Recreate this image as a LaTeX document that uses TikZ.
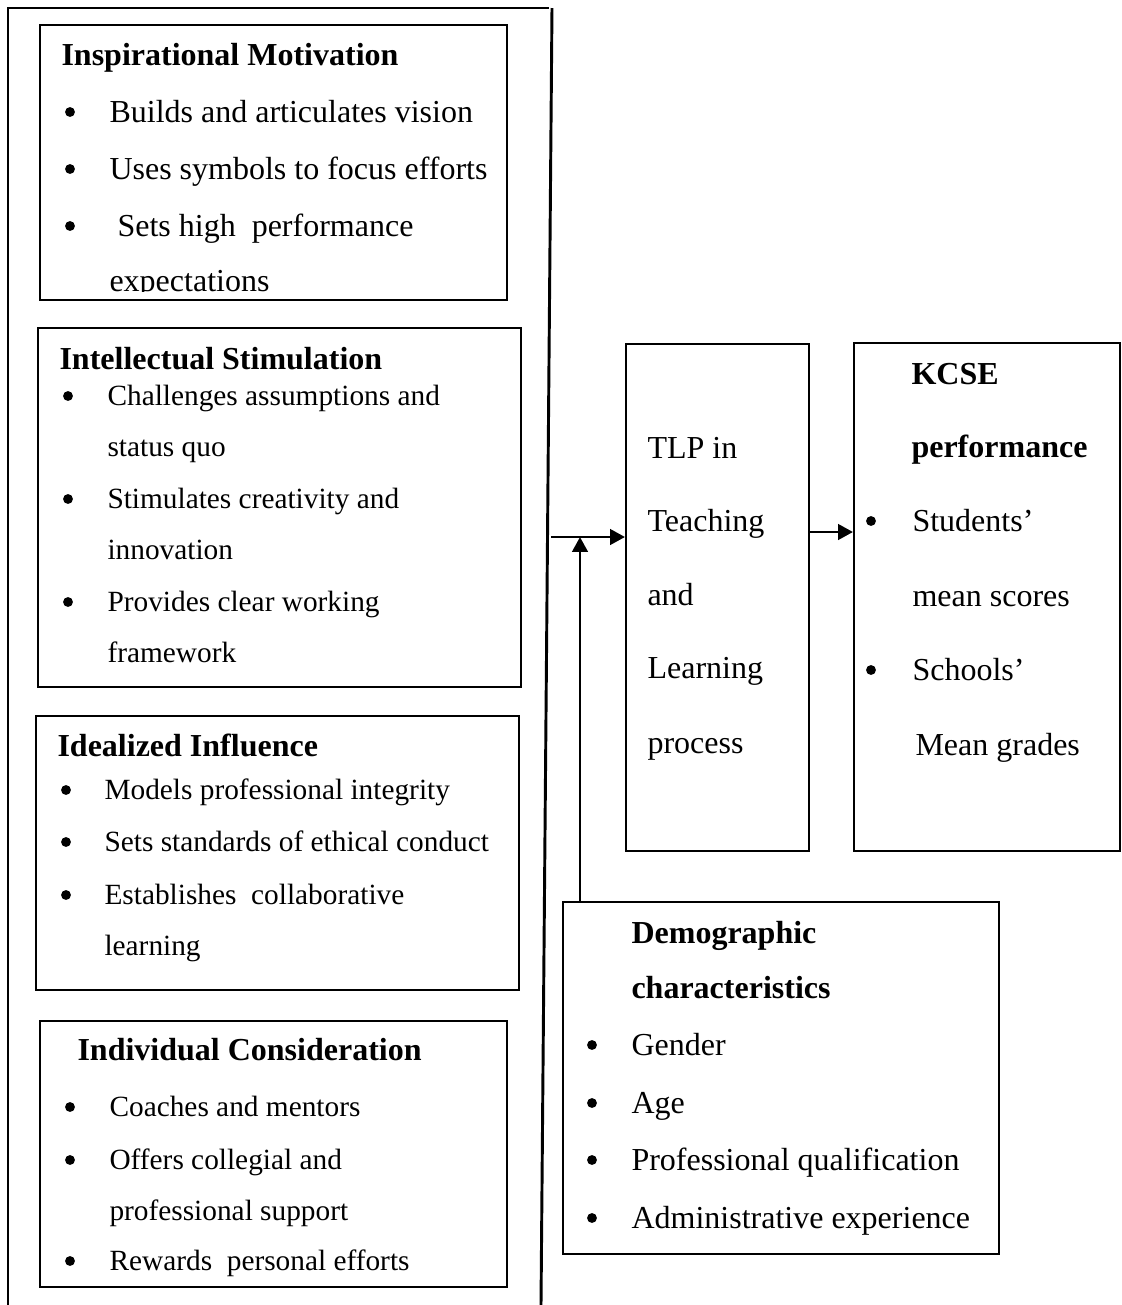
\documentclass[tikz,border=0pt]{standalone}
\usepackage{fontspec}
\setmainfont{Liberation Serif}
\usetikzlibrary{arrows.meta,fit}
\begin{document}
\begin{tikzpicture}[x=0.375pt,y=-0.375pt,
    box/.style={draw,line width=0.75pt,inner sep=0pt},
    txt/.style={anchor=base west,inner sep=0pt,font=\fontsize{12}{14}\selectfont},
    sml/.style={txt,font=\fontsize{11}{13}\selectfont},
    ttl/.style={txt,font=\fontsize{12}{14}\selectfont\bfseries},
    bul/.style={circle,fill,inner sep=0pt,minimum size=3.7pt},
    arr/.style={line width=1.1pt,-{Triangle[length=5.6pt,width=5.8pt]}}]
  \useasboundingbox (0,0) rectangle (1122,1305);
  % outer frame round the four leadership factors
  \draw[line width=0.75pt] (8,1305) -- (8,8) -- (549,8);
  \draw[line width=1.1pt] (552,8) -- (541,1305);

  % boxes
  \node[box,fit={(40,25) (507,300)}] (insp) {};
  \node[box,fit={(38,328) (521,687)}] (intel) {};
  \node[box,fit={(36,716) (519,990)}] (ideal) {};
  \node[box,fit={(40,1021) (507,1287)}] (indiv) {};
  \node[box,fit={(626,344) (809,851)}] (tlp) {};
  \node[box,fit={(854,343) (1120,851)}] (kcse) {};
  \node[box,fit={(563,902) (999,1254)}] (demo) {};

  % Inspirational Motivation (last line cut by the box)
  \begin{scope}
    \clip (40,25) rectangle (507,291);
    \node[ttl] (insp-t) at (61,65) {Inspirational Motivation};
    \foreach \y [count=\i] in {122,179,236}
      \node[bul] (insp-b\i) at (70,\y-10) {};
    \node[txt] (insp-1) at (109,122) {Builds and articulates vision};
    \node[txt] (insp-2) at (109,179) {Uses symbols to focus efforts};
    \node[txt] (insp-3) at (117,236) {Sets high\ \ performance};
    \node[txt] (insp-4) at (109,291) {expectations};
  \end{scope}

  % Intellectual Stimulation
  \node[ttl] (intel-t) at (59,369) {Intellectual Stimulation};
  \foreach \y [count=\i] in {405,508,611}
    \node[bul] (intel-b\i) at (68,\y-9) {};
  \foreach \y/\t [count=\i] in {405/Challenges assumptions and,456/status quo,
      508/Stimulates creativity and,559/innovation,
      611/Provides clear working,662/framework}
    \node[sml] (intel-\i) at (107,\y) {\t};

  % Idealized Influence
  \node[ttl] (ideal-t) at (57,756) {Idealized Influence};
  \foreach \y [count=\i] in {799,851,904}
    \node[bul] (ideal-b\i) at (66,\y-9) {};
  \foreach \y/\t [count=\i] in {799/Models professional integrity,
      851/Sets standards of ethical conduct,
      904/Establishes\ \ collaborative,955/learning}
    \node[sml] (ideal-\i) at (104,\y) {\t};

  % Individual Consideration
  \node[ttl] (indiv-t) at (77,1060) {Individual Consideration};
  \foreach \y [count=\i] in {1116,1169,1270}
    \node[bul] (indiv-b\i) at (70,\y-9) {};
  \foreach \y/\t [count=\i] in {1116/Coaches and mentors,1169/Offers collegial and,
      1220/professional support,1270/Rewards\ \ personal efforts}
    \node[sml] (indiv-\i) at (109,\y) {\t};

  % teaching and learning process
  \foreach \y/\t [count=\i] in {458/TLP in,531/Teaching,605/and,678/Learning,753/process}
    \node[txt] (tlp-\i) at (647,\y) {\t};

  % KCSE performance
  \node[ttl] (kcse-t1) at (911,384) {KCSE};
  \node[ttl] (kcse-t2) at (911,457) {performance};
  \foreach \y [count=\i] in {531,680}
    \node[bul] (kcse-b\i) at (871,\y-10) {};
  \node[txt] (kcse-1) at (912,531) {Students’};
  \node[txt] (kcse-2) at (912,606) {mean scores};
  \node[txt] (kcse-3) at (912,680) {Schools’};
  \node[txt] (kcse-4) at (915,755) {Mean grades};

  % demographic characteristics
  \node[ttl] (demo-t1) at (631,943) {Demographic};
  \node[ttl] (demo-t2) at (631,998) {characteristics};
  \foreach \y/\t [count=\i] in {1055/Gender,1113/Age,1170/Professional qualification,
      1228/Administrative experience}{
    \node[bul] (demo-b\i) at (592,\y-10) {};
    \node[txt] (demo-\i) at (631,\y) {\t};
  }

  % arrows
  \coordinate (src) at (551,537);
  \coordinate (jn) at (580,537);
  \draw[arr] (src) -- (src -| tlp.west);
  \draw[arr] (jn |- demo.north) -- (jn);
  \draw[arr] (tlp.east |- 0,532) -- (kcse.west |- 0,532);
\end{tikzpicture}
\end{document}
